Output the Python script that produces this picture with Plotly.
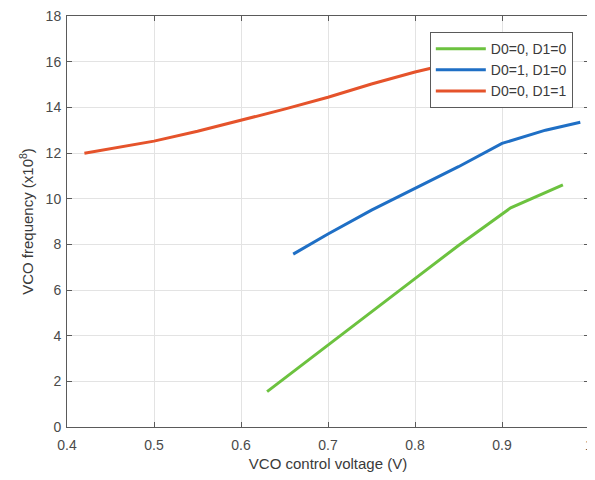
import plotly.graph_objects as go

# Data
green_x = [0.63, 0.70, 0.75, 0.80, 0.85, 0.91, 0.97]
green_y = [1.55, 3.6, 5.05, 6.5, 7.95, 9.6, 10.6]

blue_x = [0.66, 0.70, 0.75, 0.80, 0.85, 0.90, 0.95, 0.99]
blue_y = [7.57, 8.45, 9.5, 10.45, 11.4, 12.42, 13.0, 13.35]

red_x = [0.42, 0.45, 0.50, 0.55, 0.60, 0.65, 0.70, 0.75, 0.80, 0.85]
red_y = [11.99, 12.2, 12.52, 12.95, 13.42, 13.92, 14.44, 15.02, 15.55, 16.0]

labels = ["D0=0, D1=0", "D0=1, D1=0", "D0=0, D1=1"]
colors = ["#6CC23F", "#1F6FC5", "#E5532B"]

x_ticks = [0.4, 0.5, 0.6, 0.7, 0.8, 0.9, 1.0]
x_ticktext = ["0.4", "0.5", "0.6", "0.7", "0.8", "0.9", "1"]
y_ticks = list(range(0, 19, 2))

fig = go.Figure()
for xs, ys, name, c in zip([green_x, blue_x, red_x], [green_y, blue_y, red_y], labels, colors):
    fig.add_trace(go.Scatter(x=xs, y=ys, mode="lines", name=name,
                             line=dict(color=c, width=3)))

axis_common = dict(
    showline=True, linecolor="#5a5a5a", linewidth=1, mirror="allticks",
    ticks="inside", ticklen=5, tickcolor="#5a5a5a",
    showgrid=True, gridcolor="#e3e3e3", gridwidth=1, zeroline=False,
    ticklabeloverflow="allow", automargin=False,
    tickfont=dict(family="Liberation Sans, Arial, sans-serif", size=14, color="#4a4a4a"),
)

# The page body adds an 8px margin, so the figure is sized and offset to compensate.
fig.update_layout(
    width=587, height=472,
    margin=dict(l=59, r=6, t=8, b=53),
    paper_bgcolor="white", plot_bgcolor="white",
    font=dict(family="Liberation Sans, Arial, sans-serif", color="#3a3a3a"),
    xaxis=dict(range=[0.4, 1.0], tickvals=x_ticks, ticktext=x_ticktext,
               ticklabelstandoff=5,
               title=dict(text="VCO control voltage (V)", font=dict(size=15, color="#3a3a3a"), standoff=6),
               **axis_common),
    yaxis=dict(range=[0, 18], tickvals=y_ticks, ticklabelstandoff=2,
               title=dict(text="VCO frequency (x10<sup>8</sup>)", font=dict(size=15, color="#3a3a3a"), standoff=8),
               **axis_common),
    legend=dict(x=0.969, y=0.961, xanchor="right", yanchor="top",
                bgcolor="white", bordercolor="#5a5a5a", borderwidth=1,
                font=dict(size=14, color="#3a3a3a"), itemwidth=50),
    showlegend=True,
)

fig.write_html("out.html")
